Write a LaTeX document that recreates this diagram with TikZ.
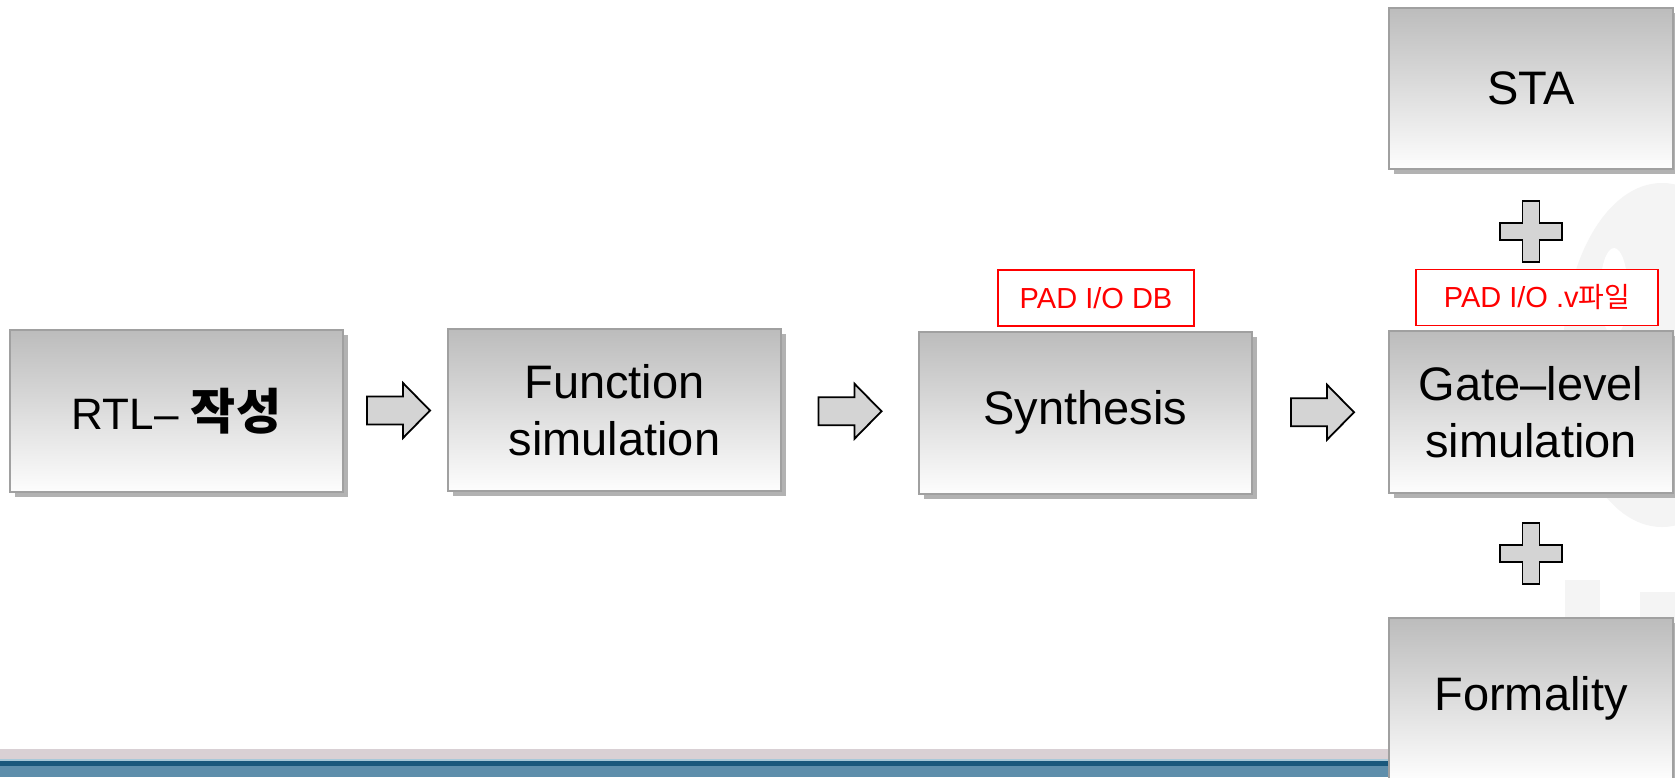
\documentclass[tikz,border=0pt]{standalone}
\usepackage{fontspec}
\setmainfont{Liberation Sans}
\newfontfamily\krfont{Noto Sans CJK KR}
\usetikzlibrary{shadows,calc}

\definecolor{boxedge}{HTML}{A0A0A0}
\definecolor{boxtop}{HTML}{BCBCBC}
\definecolor{boxmid}{HTML}{DCDCDC}
\definecolor{boxbot}{HTML}{FDFDFD}
\definecolor{blockfill}{HTML}{D4D4D4}
\definecolor{labelred}{HTML}{FF0000}
\definecolor{bandpink}{HTML}{D9D0D4}
\definecolor{bandpale}{HTML}{A8C8D8}
\definecolor{banddark}{HTML}{1A587C}
\definecolor{bandblue}{HTML}{5E8EAB}
\definecolor{markgray}{HTML}{F4F4F4}

\tikzset{
  stepbox/.style={draw=boxedge, line width=1pt,
    top color=boxtop, middle color=boxmid, bottom color=boxbot,
    drop shadow={shadow xshift=2.5pt, shadow yshift=-2.5pt, fill=black!30, opacity=1},
    align=center, inner sep=0pt,
    font=\fontsize{23.5}{28.5}\selectfont},
  widebox/.style={stepbox, minimum width=166.5pt, minimum height=81pt},
  sidebox/.style={stepbox, minimum width=142pt, minimum height=80.5pt},
  redlabel/.style={draw=labelred, line width=0.8pt, text=labelred, fill=white,
    inner sep=0pt, minimum height=28pt,
    font=\fontsize{14.5}{17}\selectfont},
  blockshape/.style={draw=black, line width=0.9pt, fill=blockfill, line join=miter},
  rarrow/.pic={\draw[blockshape] (-31.5,-14) -- (4.5,-14) -- (4.5,-27.5) -- (31.5,0)
      -- (4.5,27.5) -- (4.5,14) -- (-31.5,14) -- cycle;},
  pluspic/.pic={\draw[blockshape] (-8.5,-30.5) -- (8.5,-30.5) -- (8.5,-8.5) -- (31,-8.5)
      -- (31,8.5) -- (8.5,8.5) -- (8.5,30.5) -- (-8.5,30.5) -- (-8.5,8.5)
      -- (-31,8.5) -- (-31,-8.5) -- (-8.5,-8.5) -- cycle;}
}

\begin{document}
\begin{tikzpicture}[x=0.5pt, y=-0.5pt]
% page
\fill[white] (0,0) rectangle (1675,777);
\useasboundingbox (0,0) rectangle (1675,777);

% faint logo mark in the right margin
\fill[markgray] (1662,355) ellipse [x radius=99, y radius=172];
\fill[white] (1614,292) ellipse [x radius=14, y radius=44];
\fill[markgray] (1565,580) rectangle (1600,777);
\fill[markgray] (1640,592) rectangle (1675,777);

% footer bands
\fill[bandpink] (0,749) rectangle (1675,759);
\fill[bandpale] (0,759) rectangle (1675,761);
\fill[banddark] (0,761) rectangle (1675,766);
\fill[bandblue] (0,766) rectangle (1675,777);

% flow boxes
\node[widebox, font=\fontsize{22}{26}\selectfont] (rtl) at (176.5,411)
  {RTL– {\krfont\bfseries\fontsize{24.5}{28}\selectfont 작성}};
\node[widebox] (fun) at (614.5,410) {Function\\simulation};
\node[widebox] (syn) at (1085.5,412.5) {Synthesis};
\node[sidebox, minimum height=81pt] (gate) at (1531,412) {Gate–level\\simulation};
\node[sidebox] (sta) at (1531,88) {STA};
\node[sidebox] (frm) at (1531,698.5) {Formality};

% input labels
\node[redlabel, minimum width=98pt] (dblabel) at (1096,298) {PAD I/O DB};
\node[redlabel, minimum width=121pt] (vlabel) at (1537,297.5)
  {PAD I/O .v{\krfont\fontsize{14}{17}\selectfont 파일}};

% block arrows between steps
\pic at ($(rtl.east)!0.5!(fun.west)+(3,0)$) {rarrow};
\pic at ($(fun.east)!0.5!(syn.west)$) {rarrow};
\pic at ($(syn.east)!0.5!(gate.west)+(2,0)$) {rarrow};

% plus signs joining the sign-off checks
\coordinate (plustop) at ($(sta.south)+(0,62)$);
\pic at (plustop) {pluspic};
\pic at ($(gate.south)!0.5!(frm.north)+(0,-2)$) {pluspic};
\end{tikzpicture}
\end{document}
